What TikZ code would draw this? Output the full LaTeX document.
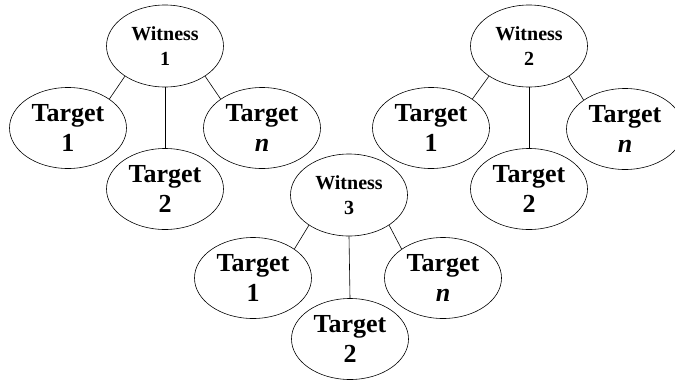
\documentclass[tikz,border=0pt]{standalone}
\usepackage{fontspec}
\setmainfont{Liberation Serif}
\usetikzlibrary{shapes}
\tikzstyle{witness} = [ellipse, draw=black, line width=0.6pt, minimum width=117pt, minimum height=82pt, inner sep=0pt, text centered, align=center, font=\bfseries\fontsize{20}{25}\selectfont]
\tikzstyle{target} = [ellipse, draw=black, line width=0.6pt, minimum width=117pt, minimum height=81pt, inner sep=0pt, text centered, align=center, font=\bfseries\fontsize{26}{30}\selectfont]
\tikzstyle{line} = [line width=0.6pt, -]

\begin{document}
\begin{tikzpicture}[x=1pt, y=-1pt]
    \clip (0,0) rectangle (675,383);
    \useasboundingbox (0,0) rectangle (675,383);

    % witness 1
    \node (w1) [witness] at (165,46) {Witness\\1};
    \node (w1t1) [target] at (68,128) {Target\\1};
    \node (w1t2) [target] at (165,189) {Target\\2};
    \node (w1tn) [target] at (262,128) {Target\\\textit{n}};

    % witness 2
    \node (w2) [witness] at (529,46) {Witness\\2};
    \node (w2t1) [target] at (431,128) {Target\\1};
    \node (w2t2) [target] at (529,189) {Target\\2};
    \node (w2tn) [target] at (625,129) {Target\\\textit{n}};

    % witness 3
    \node (w3) [witness] at (349,195) {Witness\\3};
    \node (w3t1) [target] at (253,278) {Target\\1};
    \node (w3t2) [target] at (350,339) {Target\\2};
    \node (w3tn) [target] at (443,278) {Target\\\textit{n}};

    \draw[line] (w1.217) -- (w1t1.35);
    \draw[line] (w1.south) -- (w1t2.north);
    \draw[line] (w1.323) -- (w1tn.145);
    \draw[line] (w2.217) -- (w2t1.35);
    \draw[line] (w2.south) -- (w2t2.north);
    \draw[line] (w2.323) -- (w2tn.145);
    \draw[line] (w3.217) -- (w3t1.35);
    \draw[line] (w3.south) -- (w3t2.north);
    \draw[line] (w3.323) -- (w3tn.145);

\end{tikzpicture}
\end{document}
